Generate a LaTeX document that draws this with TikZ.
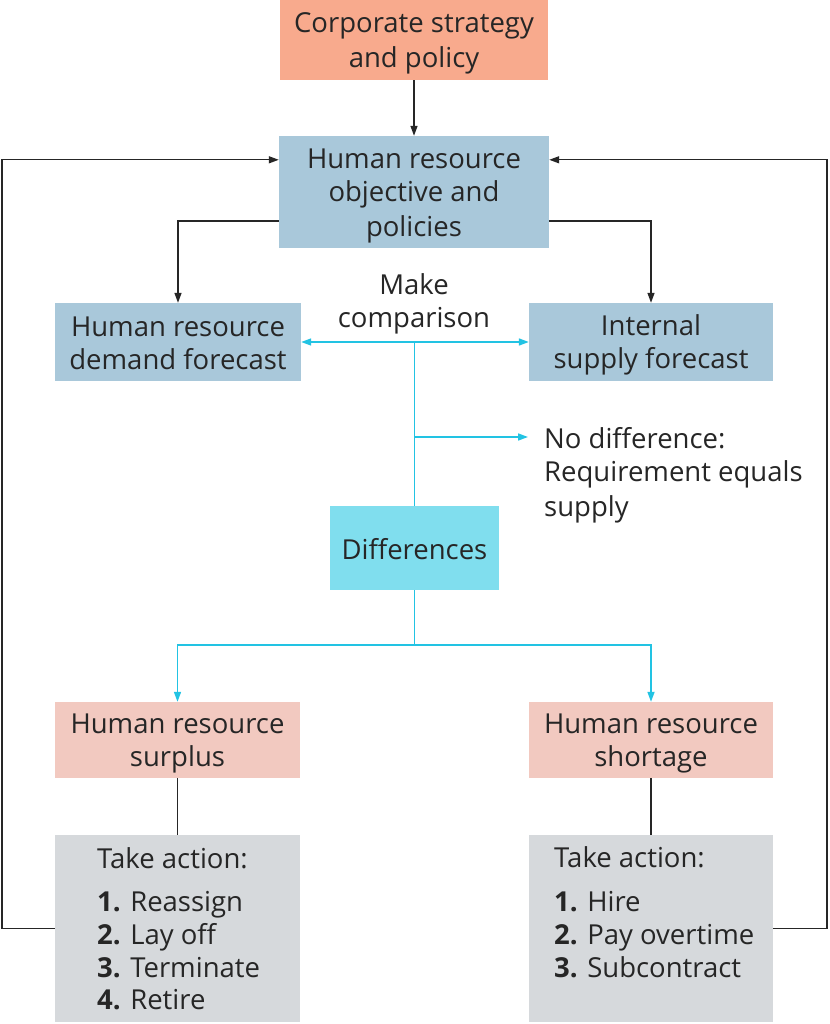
\documentclass[tikz,border=0pt]{standalone}
\usepackage{fontspec}
\setmainfont{Open Sans}
\usetikzlibrary{arrows.meta,calc}
\definecolor{txt}{HTML}{262626}
\definecolor{corpfill}{HTML}{F8AA8D}
\definecolor{bluefill}{HTML}{A9C8DA}
\definecolor{cyanfill}{HTML}{80DEEE}
\definecolor{cyanline}{HTML}{22C3E3}
\definecolor{pinkfill}{HTML}{F2C9C0}
\definecolor{grayfill}{HTML}{D6D9DC}
\newcommand\mystrut{\rule[-5.5pt]{0pt}{33pt}}
\begin{document}
\begin{tikzpicture}[x=1pt,y=-1pt,
  every node/.style={font=\fontsize{27.5}{33}\selectfont, text=txt, inner sep=0pt},
  box/.style={rectangle, align=center},
  lbl/.style={align=left},
  blk/.style={draw=txt, line width=1.4pt},
  cy/.style={draw=cyanline, line width=1.6pt},
  tip/.style={-{Triangle[length=10pt,width=7pt]}},
  tips/.style={{Triangle[length=10pt,width=7pt]}-{Triangle[length=10pt,width=7pt]}}
]
\useasboundingbox (0,0) rectangle (829,1024);
\fill[white] (0,0) rectangle (829,1024);

\node[box, fill=corpfill, minimum width=268pt, minimum height=80pt] (corp) at (414,40) {\mystrut Corporate strategy\\and policy\mystrut};
\node[box, fill=bluefill, minimum width=270pt, minimum height=112pt] (obj) at (414,192) {\mystrut Human resource\\objective and\\policies\mystrut};
\node[box, fill=bluefill, minimum width=246pt, minimum height=78pt] (dem) at (178,342) {\mystrut Human resource\\demand forecast\mystrut};
\node[box, fill=bluefill, minimum width=244pt, minimum height=78pt] (sup) at (651,342) {\mystrut Internal\\supply forecast\mystrut};
\node[box] (cmp) at (414,301) {\mystrut Make\\comparison\mystrut};
\node[box, fill=cyanfill, minimum width=169pt, minimum height=84pt] (diff) at (414.5,548) {\mystrut Differences};
\node[lbl, anchor=west] (nodiff) at (544,472) {\mystrut No difference:\\Requirement equals\\supply\mystrut};
\node[box, fill=pinkfill, minimum width=245pt, minimum height=76pt] (surp) at (177.5,740) {\mystrut Human resource\\surplus\mystrut};
\node[box, fill=pinkfill, minimum width=244pt, minimum height=76pt] (short) at (651,740) {\mystrut Human resource\\shortage\mystrut};
\node[box, fill=grayfill, minimum width=245pt, minimum height=187pt] (actL) at (177.5,928.5) {};
\node[box, fill=grayfill, minimum width=244pt, minimum height=187pt] (actR) at (651,928.5) {};

\node[anchor=base west] (l0) at (97,868) {Take action:};
\node[anchor=base west] (l1) at (97,911) {\textbf{1.} Reassign};
\node[anchor=base west] (l2) at (97,944) {\textbf{2.} Lay off};
\node[anchor=base west] (l3) at (97,977) {\textbf{3.} Terminate};
\node[anchor=base west] (l4) at (97,1009) {\textbf{4.} Retire};

\node[anchor=base west] (r0) at (554,867) {Take action:};
\node[anchor=base west] (r1) at (554,911) {\textbf{1.} Hire};
\node[anchor=base west] (r2) at (554,944) {\textbf{2.} Pay overtime};
\node[anchor=base west] (r3) at (554,977) {\textbf{3.} Subcontract};

% black connectors
\draw[blk, tip] (corp.south) -- (obj.north);
\coordinate (lloop) at (2,928.5);
\coordinate (rloop) at (827,928.5);
\draw[blk, tip] (actL.west) -- (lloop) |- ($(obj.north west)+(0,24)$);
\draw[blk, tip] (actR.east) -- (rloop) |- ($(obj.north east)+(0,24)$);
\draw[blk, tip] ($(obj.south west)+(0,-27)$) -| (dem.north);
\draw[blk, tip] ($(obj.south east)+(0,-27)$) -| (sup.north);
\draw[blk] (surp.south) -- (actL.north);
\draw[blk] (short.south) -- (actR.north);

% cyan connectors
\draw[cy, tips] (dem.east) -- (sup.west);
\coordinate (cmpc) at (414.5,342);
\draw[cy] (cmpc) -- (diff.north);
\coordinate (br) at (414.5,437);
\coordinate (nd) at (528,437);
\draw[cy, tip] (br) -- (nd);
\coordinate (split) at (414.5,645);
\draw[cy] (diff.south) -- (split);
\draw[cy, tip] (split) -| (surp.north);
\draw[cy, tip] (split) -| (short.north);
\end{tikzpicture}
\end{document}
